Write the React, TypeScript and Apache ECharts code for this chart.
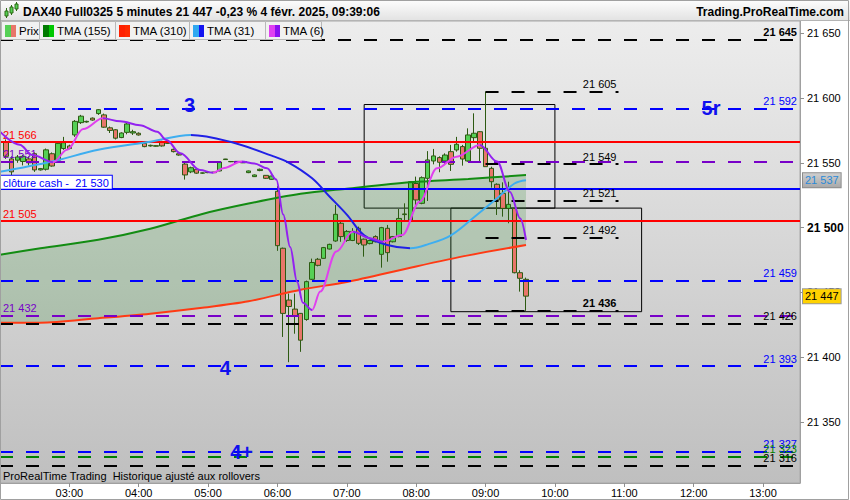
import React, { useEffect, useRef } from 'react';
import * as echarts from 'echarts';

const FONT = '"Liberation Sans", Arial, Helvetica, sans-serif';

// ---------- DATA ----------
const titleText = 'DAX40 Full0325 5 minutes 21 447 -0,23 % 4 févr. 2025, 09:39:06';
const siteText = 'Trading.ProRealTime.com';
const noteText = 'ProRealTime Trading  Historique ajusté aux rollovers';

const axisStart = '02:00';
const axisEnd = '13:32';
const yMin = 21302.7;
const yMax = 21659.5;

const candleTimes = [
  '02:05','02:10','02:15','02:20','02:25','02:30','02:35','02:40','02:45','02:50','02:55',
  '03:00','03:05','03:10','03:15','03:20','03:25','03:30','03:35','03:40','03:45','03:50','03:55',
  '04:00','04:05','04:10','04:15','04:20','04:25','04:30','04:35','04:40','04:45','04:50','04:55',
  '05:00','05:05','05:10','05:15','05:20','05:25','05:30','05:35','05:40','05:45','05:50','05:55',
  '06:00','06:05','06:10','06:15','06:20','06:25','06:30','06:35','06:40','06:45','06:50','06:55',
  '07:00','07:05','07:10','07:15','07:20','07:25','07:30','07:35','07:40','07:45','07:50','07:55',
  '08:00','08:05','08:10','08:15','08:20','08:25','08:30','08:35','08:40','08:45','08:50','08:55',
  '09:00','09:05','09:10','09:15','09:20','09:25','09:30','09:35',
];
const opens = [
  21566,21553,21552,21551,21553,21557,21544.5,21545,21557,21552,
  21561,21563,21571.5,21581,21581.5,21584.5,21588,21587,21577,21575.5,
  21569.5,21573.5,21573,21572.8,21565,21563,21562.8,21566.3,21565,21560.4,
  21557,21549,21543,21545,21542,21542.4,21542.4,21543.7,21552.5,21550.8,
  21550.8,21550,21542.4,21539.3,21544,21540.3,21537.2,21528,21484,21444,
  21437,21433.7,21429,21460,21475.5,21476.2,21483.4,21489.6,21503.3,21490,
  21490,21499.4,21491,21487.6,21493,21479.3,21499.4,21489,21493,21510,
  21505.8,21534,21518.7,21538,21551.4,21554,21551.4,21558.6,21559.9,21562.5,
  21551.4,21569.4,21574,21561.2,21545.7,21533.4,21526.4,21514.8,21514.8,21465.1,21460,
];
const highs = [
  21568,21555,21556,21556,21555,21558,21546,21561,21558,21566,
  21570,21564,21583,21587,21582.5,21585,21591.5,21588,21578,21576,
  21573.5,21581,21575.5,21573.5,21566,21564,21563.5,21567,21566,21561,
  21558,21550,21547,21546,21542.5,21543,21543,21551,21553,21551.2,
  21551.2,21550.5,21544,21541,21545.5,21540.5,21540,21532,21484.5,21449,
  21449,21434,21459,21476,21476.5,21485,21487.5,21517.4,21505.8,21498,
  21499.5,21500.7,21491.5,21490.5,21494,21500.5,21502,21493.5,21514.3,21518.7,
  21535.5,21539.3,21539.5,21559,21560.7,21555,21557.3,21563.8,21570,21563.8,
  21576.6,21588.2,21574.5,21605,21547,21534.1,21534.9,21535.4,21515,21467,21461.3,
];
const lows = [
  21553,21540,21550,21548,21548,21543,21544,21544,21547,21551,
  21560,21560.5,21570,21580,21581,21582.5,21587,21577,21573,21568,
  21569,21572,21571.5,21571,21562,21562.5,21562.5,21562.5,21564.5,21558,
  21555.5,21537,21542,21541.5,21541.5,21542,21542,21543.5,21552.5,21550.5,
  21550.5,21549.8,21542,21539,21543.5,21537.5,21537,21482,21415.5,21396,
  21418,21404,21428,21459.5,21470,21476,21483,21489,21489,21489,
  21489.5,21486.5,21477.5,21487,21488.5,21469,21473.6,21488.5,21492.5,21505.8,
  21505,21516.9,21518,21520.5,21548.8,21542.7,21549,21543.7,21558.6,21547.8,
  21550.9,21565.8,21551.4,21547,21530.8,21509.7,21508.4,21503.3,21464.6,21450.5,21435.6,
];
const closes = [
  21555,21543,21554.5,21555,21550,21544.5,21545.5,21560,21547.5,21565,
  21565.5,21561,21582,21586,21582,21583,21591,21577.5,21575,21569,
  21573,21580,21574,21571.5,21562.5,21563.5,21563.2,21563,21565.5,21558.6,
  21556,21540.6,21546.2,21542,21542.2,21542.6,21542.8,21550.6,21552.9,21551,
  21551.1,21550.2,21543.7,21540.6,21545,21538,21539.8,21486,21433.7,21439,
  21432,21413,21458.2,21473,21470.8,21484.5,21487,21510.2,21493,21497,
  21497,21487.8,21486.5,21490,21489,21499.9,21480.6,21493,21507,21510.5,
  21535.4,21521.3,21538.5,21552.2,21555.3,21550.4,21556,21548.8,21564.3,21552.9,
  21571.5,21572.8,21561.2,21547,21535.4,21521.3,21514.8,21517.9,21465.1,21460.8,21447,
];

// TMA(155) and TMA(310), sampled at the same times
const slowTimes = ['02:00','02:35','03:25','04:10','04:55','05:35','06:20','07:00','07:55','08:45','09:35'];
const tma155 = [21479,21484,21490.5,21499,21510.5,21518.5,21526,21530,21535,21537.5,21540.5];
const tma310 = [21426.5,21426.5,21430,21433.5,21438,21443,21452,21458,21469,21478.5,21486.5];

const tma31Times = ['02:00','02:45','03:25','04:10','04:45','05:20','05:55','06:10','06:30','06:45','07:00','07:15','07:35','07:55','08:10','08:30','08:50','09:10','09:25','09:35'];
const tma31 = [21543,21551,21560,21566.3,21571.5,21566,21555.5,21550,21538,21524,21510,21494,21486.5,21484,21487,21494,21508,21522.6,21534,21536.5];

const tma6Times = ['02:00','02:17','02:28','02:46','02:58','03:12','03:29','03:44','04:01','04:16','04:24','04:36','04:53','05:04','05:14','05:29','05:40','05:51','05:59','06:05','06:11','06:17','06:22','06:30','06:37','06:51','07:05','07:20','07:31','07:48','08:03','08:18','08:35','08:55','09:10','09:21','09:30','09:35'];
const tma6 = [21574,21564,21556,21550.5,21560,21576,21584.3,21582,21579,21574,21567.6,21557.3,21544.4,21542.3,21546,21551,21549.5,21545.7,21537,21510,21485,21458,21442,21436.3,21450.5,21481.4,21496.8,21491.7,21489.1,21494.2,21520,21545.7,21554.7,21563.8,21551,21527.7,21507,21490.4];

// Horizontal levels
const blueDashedLevels = [21592, 21459, 21393, 21327];
const blackDashedLevels = [21645, 21426, 21316];
const greenDashedLevels = [21323];
const purpleDashedLevels = [21551, 21432];
const redLevels = [21566, 21505];
const cashCloseLevel = 21530;
const cashCloseText = 'clôture cash -  21 530';
const shortLevels = [21605, 21549, 21521, 21492, 21436];
const shortLevelsFrom = '09:00';
const shortLevelsTo = '10:55';
const boldLevels = [21645, 21436];

// Boxes (time from, value top, time to, value bottom)
const boxes = [
  ['07:15', 21595, '10:00', 21515],
  ['08:30', 21515, '11:15', 21435],
];

// Wave annotations
const waveTexts = ['3', '5r', '4', '4+'];
const waveTimes = ['04:44', '12:15', '05:15', '05:29'];
const waveValues = [21595, 21592, 21391.5, 21326.6];

// ---------- HELPERS ----------
const toMin = (s: string) => Number(s.slice(0, 2)) * 60 + Number(s.slice(3, 5));
const pad = (n: number) => String(n).padStart(2, '0');
const fmtTime = (m: number) => pad(Math.floor(m / 60)) + ':' + pad(m % 60);
const fmtNum = (v: number) => {
  const s = String(Math.round(v));
  return s.slice(0, s.length - 3) + ' ' + s.slice(-3);
};

function slopePieces(times: number[], values: number[], up: string, down: string) {
  const segs: { from: number; to: number; color: string }[] = [];
  for (let i = 1; i < values.length; i++) {
    const color = values[i] >= values[i - 1] ? up : down;
    const last = segs[segs.length - 1];
    if (last && last.color === color) last.to = times[i];
    else segs.push({ from: times[i - 1], to: times[i], color });
  }
  return segs.map((s, k) => {
    if (segs.length === 1) return { gte: -1e9, color: s.color };
    if (k === 0) return { lt: s.to, color: s.color };
    if (k === segs.length - 1) return { gte: s.from, color: s.color };
    return { gte: s.from, lt: s.to, color: s.color };
  });
}

const DASH = [13, 13];
const BLUE = '#0000ff';
const PURPLE = '#7800c8';
const RED = '#ff0000';
const GREEN = '#008000';

function fullLevel(value: number, color: string, dashed: boolean, side: 'left' | 'right', extra: any = {}) {
  return {
    yAxis: value,
    lineStyle: { color, width: 2, type: dashed ? DASH : 'solid' },
    label: {
      show: true,
      formatter: extra.text ?? fmtNum(value),
      position: side === 'left' ? 'insideStartTop' : 'insideEndTop',
      distance: [3, 2],
      color,
      fontSize: 11,
      fontFamily: FONT,
      fontWeight: boldLevels.includes(value) ? 'bold' : 'normal',
      ...(extra.label || {}),
    },
  };
}

function buildOption() {
  const candleData = candleTimes.map((t, i) => [toMin(t), opens[i], closes[i], lows[i], highs[i]]);
  const slowT = slowTimes.map(toMin);
  const t31 = tma31Times.map(toMin);
  const t6 = tma6Times.map(toMin);
  const lastClose = closes[closes.length - 1];
  const last31 = tma31[tma31.length - 1];

  const markLines: any[] = [];
  blueDashedLevels.forEach((v) => markLines.push(fullLevel(v, BLUE, true, 'right')));
  blackDashedLevels.forEach((v) => markLines.push(fullLevel(v, '#000', true, 'right')));
  greenDashedLevels.forEach((v) => markLines.push(fullLevel(v, GREEN, true, 'right')));
  purpleDashedLevels.forEach((v) => markLines.push(fullLevel(v, PURPLE, true, 'left')));
  redLevels.forEach((v) => markLines.push(fullLevel(v, RED, false, 'left')));
  markLines.push(
    fullLevel(cashCloseLevel, BLUE, false, 'left', {
      text: cashCloseText,
      label: { backgroundColor: '#ffffff', borderColor: BLUE, borderWidth: 1, padding: [2, 3, 0, 3], distance: [0, 0] },
    })
  );
  shortLevels.forEach((v) =>
    markLines.push([
      {
        coord: [toMin(shortLevelsFrom), v],
        lineStyle: { color: '#000', width: 2, type: DASH },
        label: {
          show: true,
          formatter: fmtNum(v),
          position: 'insideEndTop',
          distance: [2, 2],
          color: '#000',
          fontSize: 11,
          fontFamily: FONT,
          fontWeight: boldLevels.includes(v) ? 'bold' : 'normal',
        },
      },
      { coord: [toMin(shortLevelsTo), v] },
    ])
  );
  // axis markers
  markLines.push({
    yAxis: lastClose,
    lineStyle: { color: 'rgba(0,0,0,0)', width: 0 },
    label: {
      show: true, position: 'end', formatter: fmtNum(lastClose), distance: 3,
      color: '#000', fontSize: 11, fontFamily: FONT,
      backgroundColor: '#ffd200', borderColor: '#9a9a9a', borderWidth: 1, padding: [2, 2, 1, 2],
    },
  });
  markLines.push({
    yAxis: last31,
    lineStyle: { color: 'rgba(0,0,0,0)', width: 0 },
    label: {
      show: true, position: 'end', formatter: fmtNum(last31), distance: 3,
      color: '#2a8ad8', fontSize: 11, fontFamily: FONT,
      backgroundColor: new echarts.graphic.LinearGradient(0, 0, 0, 1, [
        { offset: 0, color: '#cfcfcf' },
        { offset: 1, color: '#a9a9a9' },
      ]),
      borderColor: '#8c8c8c', borderWidth: 1, padding: [2, 2, 1, 2],
    },
  });

  const legendItems = [
    { name: 'Prix', c1: '#55d055', c2: '#e8766a', x0: 1, x1: 39 },
    { name: 'TMA (155)', c1: '#007a00', c2: '#00c800', x0: 39, x1: 115 },
    { name: 'TMA (310)', c1: '#ff2000', c2: '#ff2a00', x0: 115, x1: 189 },
    { name: 'TMA (31)', c1: '#30a8f0', c2: '#1414f0', x0: 189, x1: 265 },
    { name: 'TMA (6)', c1: '#e040f0', c2: '#8a10f0', x0: 265, x1: 321 },
  ];
  const graphic: any[] = [
    {
      type: 'rect', z: 100, silent: true,
      shape: { x: 0, y: 0, width: 850, height: 20 },
      style: {
        fill: new echarts.graphic.LinearGradient(0, 0, 0, 1, [
          { offset: 0, color: '#fdfdfd' },
          { offset: 1, color: '#e3e3e3' },
        ]),
      },
    },
    { type: 'line', z: 100, silent: true, shape: { x1: 0, y1: 20.5, x2: 850, y2: 20.5 }, style: { stroke: '#b4b4b4', lineWidth: 1 } },
    // icon
    { type: 'line', z: 101, shape: { x1: 6.5, y1: 8, x2: 6.5, y2: 18 }, style: { stroke: '#2d6a12', lineWidth: 1 } },
    { type: 'rect', z: 102, shape: { x: 5, y: 11, width: 3, height: 5 }, style: { fill: '#55d055', stroke: '#2d6a12', lineWidth: 1 } },
    { type: 'line', z: 101, shape: { x1: 11.5, y1: 5, x2: 11.5, y2: 15 }, style: { stroke: '#2d6a12', lineWidth: 1 } },
    { type: 'rect', z: 102, shape: { x: 10, y: 7, width: 3, height: 6 }, style: { fill: '#55d055', stroke: '#2d6a12', lineWidth: 1 } },
    { type: 'line', z: 101, shape: { x1: 16.5, y1: 2, x2: 16.5, y2: 11 }, style: { stroke: '#2d6a12', lineWidth: 1 } },
    { type: 'rect', z: 102, shape: { x: 15, y: 4, width: 3, height: 5 }, style: { fill: '#55d055', stroke: '#2d6a12', lineWidth: 1 } },
    {
      type: 'text', z: 101, x: 23, y: 12,
      style: { text: titleText, font: 'bold 12px ' + FONT, fill: '#000', verticalAlign: 'middle', textVerticalAlign: 'middle' },
    },
    {
      type: 'text', z: 101, x: 844, y: 12,
      style: { text: siteText, font: 'bold 12px ' + FONT, fill: '#000', align: 'right', textAlign: 'right', verticalAlign: 'middle', textVerticalAlign: 'middle' },
    },
    {
      type: 'text', z: 101, x: 3, y: 476,
      style: { text: noteText, font: '11px ' + FONT, fill: '#000', verticalAlign: 'middle', textVerticalAlign: 'middle' },
    },
    {
      type: 'rect', z: 120, silent: true,
      shape: { x: 0.5, y: 0.5, width: 848, height: 499 },
      style: { fill: 'none', stroke: '#a0a0a0', lineWidth: 1 },
    },
  ];
  legendItems.forEach((it) => {
    graphic.push({
      type: 'rect', z: 100, silent: true,
      shape: { x: it.x0 + 0.5, y: 21.5, width: it.x1 - it.x0, height: 18 },
      style: { fill: '#f1f1f1', stroke: '#b8b8b8', lineWidth: 1 },
    });
    graphic.push({ type: 'rect', z: 101, shape: { x: it.x0 + 4, y: 25, width: 6, height: 12 }, style: { fill: it.c1 } });
    graphic.push({ type: 'rect', z: 101, shape: { x: it.x0 + 10, y: 25, width: 5, height: 12 }, style: { fill: it.c2 } });
    graphic.push({
      type: 'text', z: 102, x: it.x0 + 18, y: 31,
      style: { text: it.name, font: '11.5px ' + FONT, fill: '#000', verticalAlign: 'middle', textVerticalAlign: 'middle' },
    });
  });

  return {
    animation: false,
    backgroundColor: '#ffffff',
    textStyle: { fontFamily: FONT },
    grid: {
      left: 0, top: 21, width: 800, height: 462,
      show: true,
      backgroundColor: new echarts.graphic.LinearGradient(0, 0, 0, 1, [
        { offset: 0, color: '#ededed' },
        { offset: 1, color: '#bfbfbf' },
      ]),
      borderColor: '#a8a8a8', borderWidth: 1,
      containLabel: false,
      outerBoundsMode: 'none',
    },
    xAxis: {
      type: 'value',
      min: toMin(axisStart),
      max: toMin(axisEnd),
      interval: 60,
      axisLine: { show: true, lineStyle: { color: '#a0a0a0' } },
      axisTick: { show: true, length: 4, lineStyle: { color: '#909090' } },
      axisLabel: {
        color: '#000', fontSize: 11, fontFamily: FONT, margin: 4,
        showMinLabel: false, showMaxLabel: false,
        formatter: (v: number) => (v % 60 === 0 ? fmtTime(v) : ''),
      },
      splitLine: { show: false },
    },
    yAxis: {
      type: 'value',
      position: 'right',
      min: yMin,
      max: yMax,
      minInterval: 50,
      maxInterval: 50,
      splitNumber: 7,
      axisLine: { show: true, lineStyle: { color: '#a0a0a0' } },
      axisTick: { show: true, length: 4, lineStyle: { color: '#909090' } },
      axisLabel: {
        color: '#000', fontSize: 11, fontFamily: FONT, margin: 7,
        showMinLabel: false, showMaxLabel: false,
        formatter: (v: number) => {
          if (Math.abs(v % 50) > 1e-6) return '';
          return v === 21500 ? '{b|' + fmtNum(v) + '}' : fmtNum(v);
        },
        rich: { b: { fontWeight: 'bold', fontSize: 12, color: '#000', fontFamily: FONT } },
      },
      splitLine: { show: false },
    },
    visualMap: [
      { type: 'piecewise', show: false, seriesIndex: 5, dimension: 0, pieces: slopePieces(t31, tma31, '#3eaef0', '#2020e6') },
      { type: 'piecewise', show: false, seriesIndex: 6, dimension: 0, pieces: slopePieces(t6, tma6, '#e040ee', '#9322f0') },
    ],
    graphic,
    series: [
      {
        // value first so that the stack is computed on the y dimension
        type: 'line', name: 'bandBase', stack: 'band', silent: true, z: 1,
        data: slowT.map((t, i) => [tma310[i], t]),
        encode: { x: 1, y: 0 },
        symbol: 'none', smooth: 0.3,
        lineStyle: { width: 0, color: 'rgba(0,0,0,0)' },
      },
      {
        type: 'line', name: 'band', stack: 'band', silent: true, z: 1,
        data: slowT.map((t, i) => [tma155[i] - tma310[i], t]),
        encode: { x: 1, y: 0 },
        symbol: 'none', smooth: 0.3,
        lineStyle: { width: 0, color: 'rgba(0,0,0,0)' },
        areaStyle: { color: 'rgba(55,140,55,0.32)' },
      },
      {
        type: 'candlestick', name: 'Prix', z: 3, clip: false,
        data: candleData,
        barWidth: 5,
        itemStyle: { color: '#55d055', color0: '#e8766a', borderColor: '#2d5a12', borderColor0: '#2d5a12', borderWidth: 1 },
        markLine: { symbol: ['none', 'none'], silent: true, animation: false, data: markLines },
        markArea: {
          silent: true,
          itemStyle: { color: 'rgba(0,0,0,0)', borderColor: '#000', borderWidth: 1 },
          label: { show: false },
          data: boxes.map((b) => [
            { coord: [toMin(b[0] as string), b[1] as number] },
            { coord: [toMin(b[2] as string), b[3] as number] },
          ]),
        },
        markPoint: {
          symbol: 'circle', symbolSize: 1, silent: true,
          itemStyle: { color: 'rgba(0,0,0,0)' },
          label: { show: true, position: 'inside', color: '#1010ee', fontSize: 20, fontWeight: 'bold', fontFamily: FONT },
          data: waveTexts.map((txt, i) => ({
            coord: [toMin(waveTimes[i]), waveValues[i]],
            label: { formatter: txt },
          })),
        },
      },
      {
        type: 'line', name: 'TMA (155)', z: 4, silent: true,
        data: slowT.map((t, i) => [t, tma155[i]]),
        symbol: 'none', smooth: 0.3,
        lineStyle: { width: 2, color: '#138c13' },
      },
      {
        type: 'line', name: 'TMA (310)', z: 4, silent: true,
        data: slowT.map((t, i) => [t, tma310[i]]),
        symbol: 'none', smooth: 0.3,
        lineStyle: { width: 2, color: '#ff3a14' },
      },
      {
        type: 'line', name: 'TMA (31)', z: 5, silent: true,
        data: t31.map((t, i) => [t, tma31[i]]),
        symbol: 'none', smooth: 0.35,
        lineStyle: { width: 2 },
      },
      {
        type: 'line', name: 'TMA (6)', z: 6, silent: true,
        data: t6.map((t, i) => [t, tma6[i]]),
        symbol: 'none', smooth: 0.35, smoothMonotone: 'x',
        lineStyle: { width: 2 },
      },
    ],
  };
}

export default function App() {
  const ref = useRef<HTMLDivElement>(null);
  useEffect(() => {
    if (!ref.current) return;
    const chart = echarts.init(ref.current, null, { renderer: 'svg' });
    chart.setOption(buildOption() as any);
    return () => chart.dispose();
  }, []);
  return <div ref={ref} style={{ position: 'absolute', left: 0, top: 0, width: 850, height: 500 }} />;
}
